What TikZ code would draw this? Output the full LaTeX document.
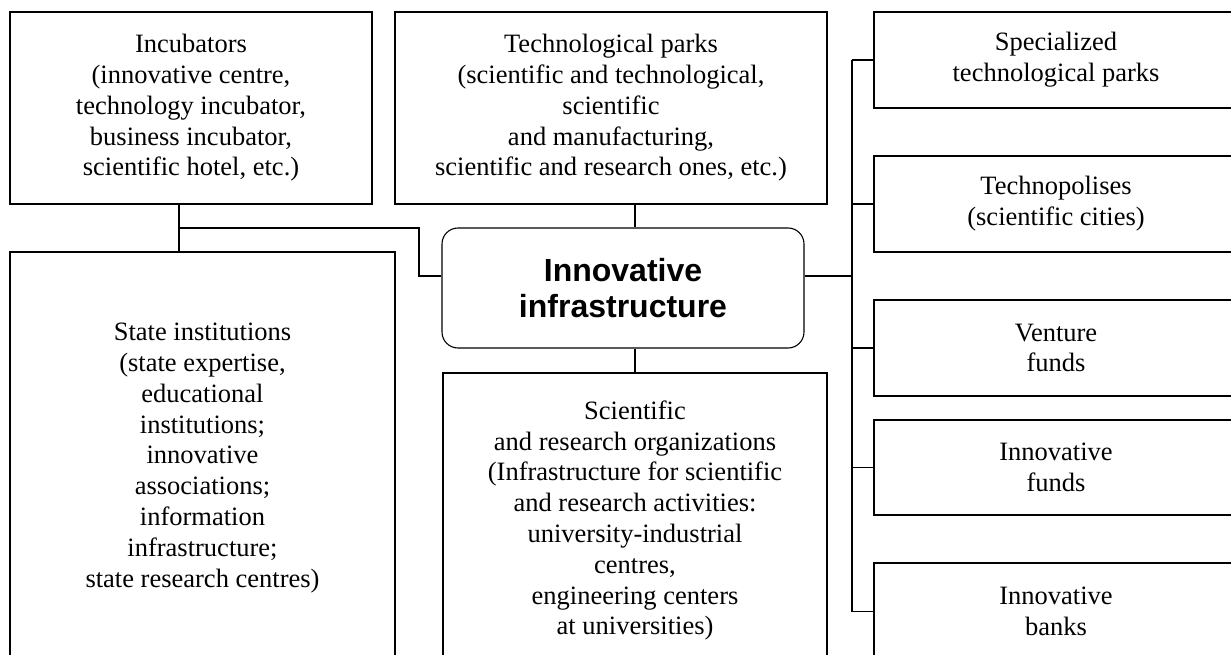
\documentclass[tikz,border=0pt]{standalone}
\usepackage{fontspec}
\setmainfont{Liberation Serif}
\newfontfamily\headfont{Liberation Sans}
\newcommand{\boxfont}{\fontsize{26.5}{30.8}\selectfont}
\newcommand{\cenfont}{\headfont\bfseries\fontsize{32}{36}\selectfont}
\begin{document}
\begin{tikzpicture}[x=1pt,y=-1pt,
  box/.style={draw, line width=1.1pt, rectangle, inner sep=0pt, align=center, font=\boxfont},
  cenbox/.style={box, rounded corners=16pt, font=\cenfont},
  link/.style={line width=1.1pt}]
\useasboundingbox (0,0) rectangle (1231,655);
\clip (0,0) rectangle (1231,655);
\fill[white] (0,0) rectangle (1231,655);
% left and centre
\node[box, minimum width=362pt, minimum height=192pt] (inc) at (191,108)
  {Incubators\\(innovative centre,\\technology incubator,\\business incubator,\\scientific hotel, etc.)};
\node[box, minimum width=432pt, minimum height=192pt] (tech) at (611,108)
  {Technological parks\\(scientific and technological,\\scientific\\and manufacturing,\\scientific and research ones, etc.)};
\node[box, minimum width=385pt, minimum height=412pt] (state) at (202.5,458)
  {State institutions\\(state expertise,\\educational\\institutions;\\innovative\\associations;\\information\\infrastructure;\\state research centres)};
\node[box, minimum width=384pt, minimum height=295pt] (sci) at (635,520.5)
  {Scientific\\and research organizations\\(Infrastructure for scientific\\and research activities:\\university-industrial\\centres,\\engineering centers\\at universities)};
\node[cenbox, minimum width=362pt, minimum height=120pt] (cen) at (623,288)
  {Innovative\\infrastructure};
% right column
\node[box, minimum width=364pt, minimum height=96pt] (spec) at (1056,60)
  {Specialized\\technological parks};
\node[box, minimum width=364pt, minimum height=96pt] (techno) at (1056,204)
  {Technopolises\\(scientific cities)};
\node[box, minimum width=364pt, minimum height=96pt] (venture) at (1056,348)
  {Venture\\funds};
\node[box, minimum width=364pt, minimum height=95pt] (funds) at (1056,467.5)
  {Innovative\\funds};
\node[box, minimum width=364pt, minimum height=97pt] (banks) at (1056,611.5)
  {Innovative\\banks};
% connectors
\coordinate (j1) at (179,228);
\coordinate (j2) at (419,228);
\coordinate (hy) at (0,276);
\coordinate (bus) at (852,276);
\draw[link] (j1 |- inc.south) -- (j1 |- state.north);
\draw[link] (j1) -- (j2) |- (cen.west |- hy);
\draw[link] (sci.north |- tech.south) -- (sci.north |- cen.north);
\draw[link] (sci.north |- cen.south) -- (sci.north);
\draw[link] (cen.east |- bus) -- (bus);
\draw[link] (bus |- spec.west) -- (bus |- banks.west);
\foreach \n in {spec,techno,venture,funds,banks}
  \draw[link] (bus |- \n.west) -- (\n.west);
\end{tikzpicture}
\end{document}
